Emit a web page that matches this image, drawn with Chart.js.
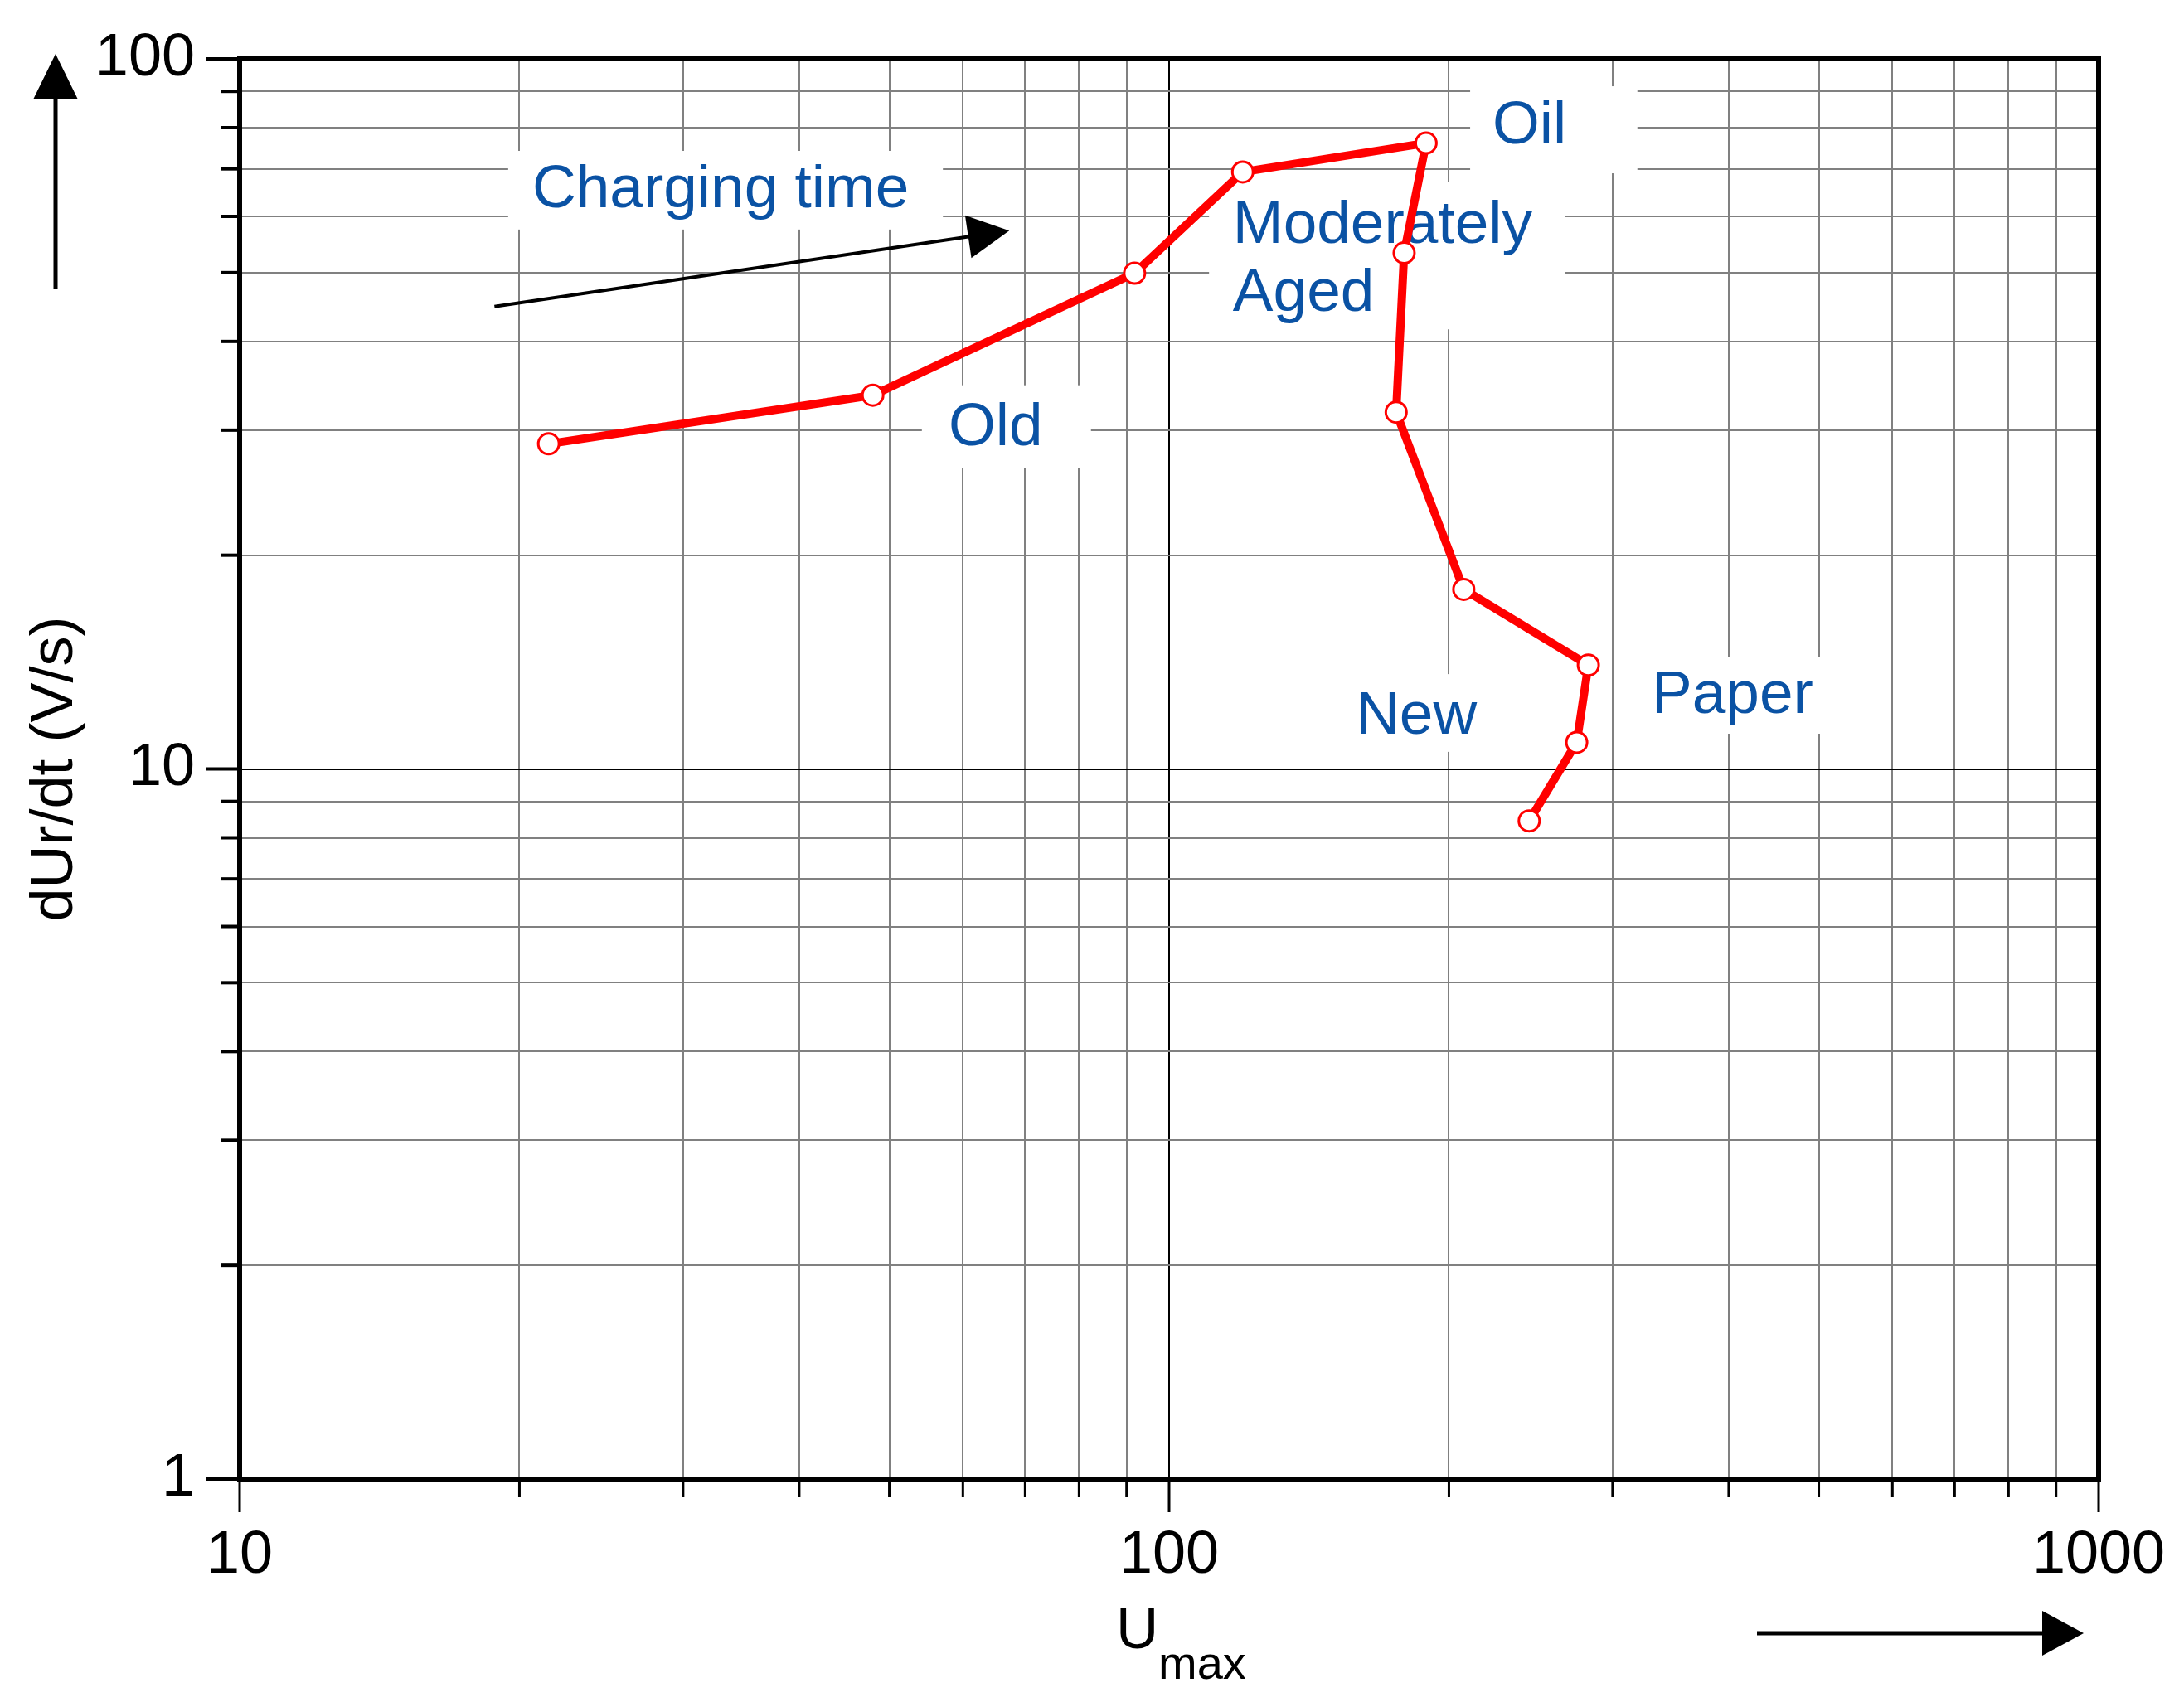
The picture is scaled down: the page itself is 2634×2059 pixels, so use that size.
<!DOCTYPE html>
<html>
<head>
<meta charset="utf-8">
<title>dUr/dt versus Umax</title>
<script src="https://cdn.jsdelivr.net/npm/chart.js@4.4.0/dist/chart.umd.min.js"></script>
<style>
  html, body { margin: 0; padding: 0; background: #fff; }
  #wrap { width: 2634px; height: 2059px; }
</style>
</head>
<body>
<div id="wrap"><canvas id="chart" width="2634" height="2059"></canvas></div>
<script>
// DATA
// =============================================================================

// Umax of each measured point, in charging-time order
const uMax = [21.5, 48, 91.8, 120, 189, 179, 175.5, 207.5, 282.5, 274.5, 244];
// dUr/dt (V/s) of each point
const dUrDt = [28.7, 33.6, 49.9, 69.3, 76.1, 53.3, 31.8, 17.9, 14.0, 10.9, 8.45];

// labelled decades on each axis
const xTickLabels = [10, 100, 1000];
const yTickLabels = [1, 10, 100];

// notes inside the plot (anchor = left end of baseline, in data units)
const noteTexts = ['Charging time', 'Old', 'Oil', 'Moderately', 'Aged', 'New', 'Paper'];
const noteX = [20.65, 57.9, 222.8, 117.1, 117.1, 158.8, 330.5];
const noteY = [61.8, 28.58, 76.0, 55.1, 44.2, 11.21, 11.99];

// white boxes that hide the grid behind the notes: [xMin, xMax, yMin, yMax]
const noteBoxes = [
  [19.45, 57.1, 57.5, 74.2],
  [54.2, 82.4, 26.5, 34.7],
  [210.8, 319, 69, 91.5],
  [110.4, 266.5, 41.6, 67.0],
  [149.3, 227.4, 10.57, 13.6],
  [312.7, 522.6, 11.21, 14.39]
];

// "charging time" arrow, tail then tip
const chargeArrowX = [18.8, 67.3];
const chargeArrowY = [44.8, 57.3];

// =============================================================================
// DRAWING HELPERS
// =============================================================================

const FONT = '"Liberation Sans", Arial, sans-serif';
const NOTE_COLOR = '#0a52a4';
const GRID_GREY = '#808080';

/**
 * Draws a straight arrow with a filled triangular head
 */
const drawArrow = (ctx, x0, y0, x1, y1, headLen, headHalf, width) => {
  const ang = Math.atan2(y1 - y0, x1 - x0);
  const bx = x1 - headLen * Math.cos(ang);
  const by = y1 - headLen * Math.sin(ang);
  ctx.save();
  ctx.strokeStyle = '#000';
  ctx.fillStyle = '#000';
  ctx.lineWidth = width;
  ctx.beginPath();
  ctx.moveTo(x0, y0);
  ctx.lineTo(bx, by);
  ctx.stroke();
  ctx.beginPath();
  ctx.moveTo(x1, y1);
  ctx.lineTo(bx + headHalf * Math.sin(ang), by - headHalf * Math.cos(ang));
  ctx.lineTo(bx - headHalf * Math.sin(ang), by + headHalf * Math.cos(ang));
  ctx.closePath();
  ctx.fill();
  ctx.restore();
};

// keep only the 1..9 x 10^n ticks (v4 adds in-between ones like 15, 150)
const keepDecadeSteps = (scale) => {
  scale.ticks = scale.ticks.filter(t => {
    const m = t.value / Math.pow(10, Math.floor(Math.log10(t.value) + 1e-9));
    return Math.abs(m - Math.round(m)) < 1e-6;
  });
};

// white boxes + blue notes, drawn over the grid but under the red line
const notesPlugin = {
  id: 'notes',
  beforeDatasetsDraw(chart) {
    const { ctx, scales: { x, y } } = chart;
    ctx.save();
    ctx.fillStyle = '#fff';
    noteBoxes.forEach(([x0, x1, y0, y1]) => {
      const left = x.getPixelForValue(x0);
      const right = x.getPixelForValue(x1);
      const top = y.getPixelForValue(y1);
      const bottom = y.getPixelForValue(y0);
      ctx.fillRect(left, top, right - left, bottom - top);
    });
    ctx.fillStyle = NOTE_COLOR;
    ctx.font = `73px ${FONT}`;
    ctx.textAlign = 'left';
    ctx.textBaseline = 'alphabetic';
    noteTexts.forEach((t, i) => {
      ctx.fillText(t, x.getPixelForValue(noteX[i]), y.getPixelForValue(noteY[i]));
    });
    ctx.restore();
  }
};

// frame, tick marks, x title with subscript, and the arrows
const framePlugin = {
  id: 'frame',
  afterDraw(chart) {
    const { ctx, chartArea: a, scales: { x, y } } = chart;
    ctx.save();

    // tick marks outside the frame
    ctx.strokeStyle = '#000';
    ctx.lineWidth = 4;
    y.ticks.forEach(t => {
      const py = y.getPixelForValue(t.value);
      const len = yTickLabels.includes(t.value) ? 41 : 22;
      ctx.beginPath();
      ctx.moveTo(a.left - len, py);
      ctx.lineTo(a.left, py);
      ctx.stroke();
    });
    ctx.lineWidth = 3;
    x.ticks.forEach(t => {
      const px = x.getPixelForValue(t.value);
      const len = xTickLabels.includes(t.value) ? 40 : 22;
      ctx.beginPath();
      ctx.moveTo(px, a.bottom);
      ctx.lineTo(px, a.bottom + len);
      ctx.stroke();
    });

    // heavy frame round the plot
    ctx.lineWidth = 6;
    ctx.strokeRect(a.left, a.top, a.right - a.left, a.bottom - a.top);

    // x title: U with subscript max
    const cx = (a.left + a.right) / 2;
    ctx.fillStyle = '#000';
    ctx.textAlign = 'left';
    ctx.textBaseline = 'alphabetic';
    ctx.font = `71px ${FONT}`;
    ctx.fillText('U', cx - 64, a.bottom + 204);
    ctx.font = `56px ${FONT}`;
    ctx.fillText('max', cx - 13, a.bottom + 241);

    // axis direction arrows
    drawArrow(ctx, 67, a.top + 277, 67, a.top - 6, 55, 27, 5);
    drawArrow(ctx, a.right - 412, a.bottom + 186, a.right - 18, a.bottom + 186, 50, 27, 5);

    // charging time arrow
    drawArrow(ctx,
      x.getPixelForValue(chargeArrowX[0]), y.getPixelForValue(chargeArrowY[0]),
      x.getPixelForValue(chargeArrowX[1]), y.getPixelForValue(chargeArrowY[1]),
      50, 26, 4);

    ctx.restore();
  }
};

// =============================================================================
// CHART
// =============================================================================

const points = uMax.map((u, i) => ({ x: u, y: dUrDt[i] }));

const gridColor = (labels) => (c) =>
  c.tick && labels.includes(c.tick.value) ? '#000' : GRID_GREY;

new Chart(document.getElementById('chart').getContext('2d'), {
  type: 'scatter',
  data: {
    datasets: [{
      data: points,
      showLine: true,
      borderColor: '#ff0000',
      borderWidth: 10,
      borderJoinStyle: 'round',
      pointRadius: 12.5,
      pointHoverRadius: 12.5,
      pointBorderWidth: 3,
      pointBackgroundColor: '#fff',
      pointBorderColor: '#ff0000',
      tension: 0
    }]
  },
  options: {
    responsive: false,
    animation: false,
    devicePixelRatio: 1,
    layout: { padding: { left: 0, top: 71, right: 103, bottom: 0 } },
    plugins: {
      legend: { display: false },
      tooltip: { enabled: false }
    },
    scales: {
      x: {
        type: 'logarithmic',
        min: 10,
        max: 1000,
        afterBuildTicks: keepDecadeSteps,
        afterFit: (s) => { s.height = 275; },
        border: { display: false },
        grid: {
          color: gridColor(xTickLabels),
          lineWidth: 2,
          drawTicks: true,
          tickLength: 40,
          tickColor: 'rgba(0,0,0,0)'
        },
        ticks: {
          autoSkip: false,
          maxRotation: 0,
          padding: 10,
          color: '#000',
          font: { family: FONT, size: 72 },
          callback: (v) => xTickLabels.includes(v) ? String(v) : ''
        }
      },
      y: {
        type: 'logarithmic',
        min: 1,
        max: 100,
        afterBuildTicks: keepDecadeSteps,
        afterFit: (s) => { s.width = 289; },
        border: { display: false },
        grid: {
          color: gridColor(yTickLabels),
          lineWidth: 2,
          drawTicks: true,
          tickLength: 40,
          tickColor: 'rgba(0,0,0,0)'
        },
        ticks: {
          autoSkip: false,
          padding: 14,
          color: '#000',
          font: { family: FONT, size: 72 },
          callback: (v) => yTickLabels.includes(v) ? String(v) : ''
        },
        title: {
          display: true,
          text: 'dUr/dt (V/s)',
          color: '#000',
          font: { family: FONT, size: 72 },
          padding: { top: 24, bottom: 0 }
        }
      }
    }
  },
  plugins: [notesPlugin, framePlugin]
});
</script>
</body>
</html>
